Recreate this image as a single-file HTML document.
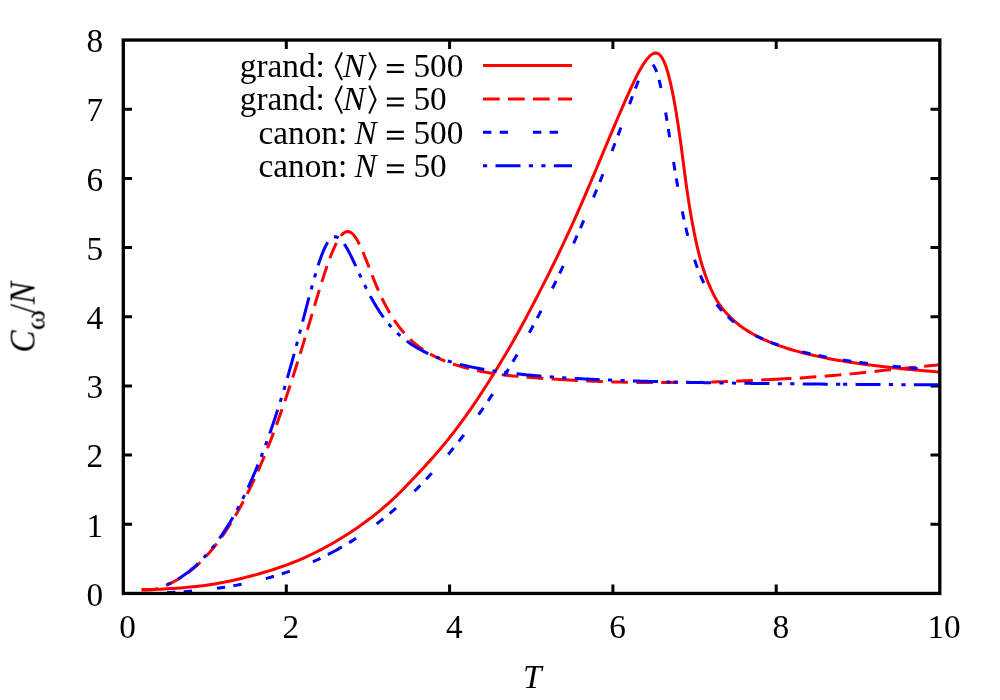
<!DOCTYPE html>
<html><head><meta charset="utf-8"><title>plot</title>
<style>html,body{margin:0;padding:0;background:#fff;width:1000px;height:700px;overflow:hidden;font-family:"Liberation Serif",serif}</style></head>
<body>
<svg width="1000" height="700" viewBox="0 0 1000 700" style="position:absolute;left:0;top:0">
<rect width="1000" height="700" fill="#fff"/>
<g fill="none" stroke="#000" stroke-width="3" stroke-linecap="butt">
<path d="M286.30,593.5 v-9 M286.30,40 v9"/>
<path d="M449.60,593.5 v-9 M449.60,40 v9"/>
<path d="M612.90,593.5 v-9 M612.90,40 v9"/>
<path d="M776.20,593.5 v-9 M776.20,40 v9"/>
<path d="M123,524.31 h9 M939.5,524.31 h-9"/>
<path d="M123,455.12 h9 M939.5,455.12 h-9"/>
<path d="M123,385.94 h9 M939.5,385.94 h-9"/>
<path d="M123,316.75 h9 M939.5,316.75 h-9"/>
<path d="M123,247.56 h9 M939.5,247.56 h-9"/>
<path d="M123,178.38 h9 M939.5,178.38 h-9"/>
<path d="M123,109.19 h9 M939.5,109.19 h-9"/>
</g>
<g fill="none" stroke-width="3" stroke-linejoin="round" stroke-linecap="butt">
<path stroke="#ff0000" d="M141.62,590.01 L144.23,589.90 L147.50,589.78 L150.76,589.64 L154.03,589.50 L157.29,589.35 L160.56,589.18 L163.82,589.00 L167.09,588.81 L170.36,588.61 L173.62,588.39 L176.89,588.16 L180.16,587.91 L183.42,587.65 L186.69,587.37 L189.95,587.08 L193.22,586.77 L196.49,586.43 L199.75,586.06 L203.02,585.65 L206.28,585.21 L209.55,584.72 L212.81,584.20 L216.08,583.65 L219.35,583.07 L222.61,582.46 L225.88,581.84 L229.15,581.17 L232.41,580.47 L235.68,579.74 L238.94,578.97 L242.21,578.19 L245.48,577.37 L248.74,576.55 L252.01,575.70 L255.27,574.83 L258.54,573.94 L261.81,573.01 L265.07,572.06 L268.34,571.08 L271.60,570.06 L274.87,569.00 L278.14,567.91 L281.40,566.79 L284.67,565.63 L286.30,565.04 L288.34,564.29 L290.38,563.52 L292.42,562.73 L294.46,561.93 L296.51,561.11 L298.55,560.26 L300.59,559.40 L302.63,558.51 L304.67,557.60 L306.71,556.67 L308.75,555.71 L310.79,554.74 L312.84,553.75 L314.88,552.74 L316.92,551.72 L318.96,550.68 L321.00,549.62 L323.04,548.55 L325.08,547.47 L327.12,546.36 L329.17,545.24 L331.21,544.09 L333.25,542.93 L335.29,541.75 L337.33,540.55 L339.37,539.33 L341.41,538.09 L343.45,536.83 L345.50,535.55 L347.54,534.25 L349.58,532.93 L351.62,531.58 L353.66,530.22 L355.70,528.83 L357.74,527.43 L359.78,526.00 L361.83,524.55 L363.87,523.08 L365.91,521.58 L367.95,520.06 L369.99,518.52 L372.03,516.95 L374.07,515.35 L376.11,513.73 L378.16,512.08 L380.20,510.40 L382.24,508.70 L384.28,506.97 L386.32,505.20 L388.36,503.40 L390.40,501.57 L392.44,499.69 L394.49,497.76 L396.53,495.80 L398.57,493.80 L400.61,491.78 L402.65,489.73 L404.69,487.63 L406.73,485.50 L408.77,483.35 L410.82,481.19 L412.86,479.05 L414.90,476.92 L416.94,474.77 L418.98,472.62 L421.02,470.45 L423.06,468.26 L425.10,466.05 L427.15,463.82 L429.19,461.56 L431.23,459.28 L433.27,456.97 L435.31,454.63 L437.35,452.28 L439.39,449.90 L441.43,447.49 L443.48,445.06 L445.52,442.59 L447.56,440.09 L449.60,437.54 L451.64,434.96 L453.68,432.34 L455.72,429.67 L457.76,426.97 L459.81,424.24 L461.85,421.46 L463.89,418.66 L465.93,415.82 L467.97,412.94 L470.01,410.02 L472.05,407.06 L474.09,404.06 L476.14,401.04 L478.18,397.98 L480.22,394.89 L482.26,391.78 L484.30,388.64 L486.34,385.47 L488.38,382.27 L490.42,379.04 L492.47,375.78 L494.51,372.50 L496.55,369.18 L498.59,365.84 L500.63,362.47 L502.67,359.07 L504.71,355.65 L506.75,352.20 L508.80,348.72 L510.84,345.21 L512.88,341.66 L514.92,338.07 L516.96,334.45 L519.00,330.79 L521.04,327.08 L523.08,323.32 L525.13,319.51 L527.17,315.67 L529.21,311.79 L531.25,307.89 L533.29,303.96 L535.33,300.03 L537.37,296.09 L539.41,292.14 L541.46,288.16 L543.50,284.16 L545.54,280.13 L547.58,276.08 L549.62,271.99 L551.66,267.88 L553.70,263.73 L555.74,259.55 L557.79,255.33 L559.83,251.08 L561.87,246.79 L563.91,242.46 L565.95,238.10 L567.99,233.71 L570.03,229.28 L572.07,224.83 L574.12,220.33 L576.16,215.80 L578.20,211.23 L580.24,206.61 L582.28,201.94 L584.32,197.21 L586.36,192.43 L588.40,187.62 L590.45,182.78 L592.49,177.92 L594.53,173.06 L596.57,168.22 L598.61,163.37 L600.65,158.51 L602.69,153.64 L604.73,148.76 L606.78,143.89 L608.82,139.03 L610.86,134.18 L612.90,129.35 L614.94,124.55 L616.98,119.77 L619.02,115.02 L621.06,110.30 L623.11,105.61 L625.15,100.97 L627.19,96.38 L629.23,91.85 L631.27,87.38 L633.31,83.01 L635.35,78.75 L637.39,74.67 L639.44,70.80 L641.48,67.21 L643.52,63.94 L645.56,60.99 L647.60,58.40 L649.64,56.19 L651.68,54.46 L653.72,53.33 L655.77,52.92 L657.81,53.40 L659.85,54.89 L661.89,57.49 L663.93,61.33 L665.97,66.51 L668.01,73.07 L670.05,81.05 L672.10,90.33 L674.14,100.82 L676.18,112.50 L678.22,125.51 L680.26,139.36 L682.30,154.78 L684.34,170.52 L686.38,185.96 L688.43,199.88 L690.47,212.46 L692.51,223.95 L694.55,234.52 L696.59,244.12 L698.63,252.69 L700.67,260.33 L702.71,267.23 L704.76,273.45 L706.80,279.07 L708.84,284.18 L710.88,288.90 L712.92,293.23 L714.96,297.17 L717.00,300.72 L719.04,303.86 L721.09,306.68 L723.13,309.30 L725.17,311.75 L727.21,314.04 L729.25,316.19 L731.29,318.20 L733.33,320.11 L735.37,321.90 L737.42,323.59 L739.46,325.20 L741.50,326.73 L743.54,328.18 L745.58,329.56 L747.62,330.87 L749.66,332.13 L751.70,333.33 L753.75,334.48 L755.79,335.58 L757.83,336.64 L759.87,337.65 L761.91,338.63 L763.95,339.57 L765.99,340.48 L768.03,341.36 L770.08,342.20 L772.12,343.02 L774.16,343.81 L776.20,344.58 L780.28,346.05 L784.37,347.43 L788.45,348.74 L792.53,349.97 L796.61,351.14 L800.70,352.25 L804.78,353.30 L808.86,354.30 L812.94,355.25 L817.03,356.16 L821.11,357.03 L825.19,357.86 L829.27,358.66 L833.36,359.42 L837.44,360.15 L841.52,360.85 L845.60,361.52 L849.69,362.17 L853.77,362.79 L857.85,363.39 L861.93,363.97 L866.02,364.53 L870.10,365.07 L874.18,365.59 L878.26,366.09 L882.35,366.58 L886.43,367.05 L890.51,367.51 L894.59,367.95 L898.68,368.37 L902.76,368.79 L906.84,369.19 L910.92,369.58 L915.01,369.96 L919.09,370.32 L923.17,370.68 L927.25,371.02 L931.34,371.36 L935.42,371.68 L939.50,372.00"/>
<path stroke="#ff0000" stroke-dasharray="16.67 8.33" d="M141.62,589.74 L144.23,589.50 L147.50,589.63 L150.76,589.75 L154.03,589.49 L157.29,588.60 L160.56,587.50 L163.82,586.27 L167.09,584.92 L170.36,583.43 L173.62,581.79 L176.89,580.01 L180.16,578.07 L183.42,575.96 L186.69,573.69 L189.95,571.23 L193.22,568.60 L196.49,565.78 L199.75,562.76 L203.02,559.54 L206.28,556.11 L209.55,552.46 L212.81,548.60 L216.08,544.51 L219.35,540.19 L222.61,535.63 L225.88,530.82 L229.15,525.77 L232.41,520.58 L235.68,515.15 L238.94,509.46 L242.21,503.52 L245.48,497.31 L248.74,490.84 L252.01,484.10 L255.27,477.09 L258.54,469.81 L261.81,462.26 L265.07,454.42 L268.34,446.31 L271.60,437.93 L274.87,429.27 L278.14,420.35 L281.40,411.16 L284.67,401.71 L286.30,396.90 L288.34,390.79 L290.38,384.60 L292.42,378.32 L294.46,371.95 L296.51,365.52 L298.55,359.01 L300.59,352.44 L302.63,345.82 L304.67,339.00 L306.71,332.14 L308.75,325.25 L310.79,318.36 L312.84,311.48 L314.88,304.63 L316.92,297.84 L318.96,291.13 L321.00,284.54 L323.04,278.11 L325.08,271.87 L327.12,265.87 L329.17,260.15 L331.21,254.78 L333.25,249.81 L335.29,245.30 L337.33,241.32 L339.37,237.93 L341.41,235.20 L343.45,233.18 L345.50,231.93 L347.54,231.48 L349.20,231.78 M349.20,231.78 L349.58,231.85 L351.62,233.03 L353.66,235.00 L355.70,237.71 L357.74,241.09 L359.78,245.05 L361.83,249.48 L363.87,254.27 L365.91,259.32 L367.95,264.51 L369.99,269.76 L372.03,274.98 L374.07,280.11 L376.11,285.09 L378.16,289.88 L380.20,294.47 L382.24,298.83 L384.28,302.97 L386.32,306.88 L388.36,310.59 L390.40,314.10 L392.44,317.39 L394.49,320.50 L396.53,323.43 L398.57,326.19 L400.61,328.80 L402.65,331.27 L404.69,333.61 L406.73,335.83 L408.77,337.94 L410.82,339.92 L412.86,341.79 L414.90,343.55 L416.94,345.20 L418.98,346.76 L421.02,348.24 L423.06,349.65 L425.10,350.99 L427.15,352.26 L429.19,353.47 L431.23,354.61 L433.27,355.71 L435.31,356.74 L437.35,357.73 L439.39,358.67 L441.43,359.57 L443.48,360.43 L445.52,361.25 L447.56,362.04 L449.60,362.79 L451.64,363.52 L453.68,364.21 L455.72,364.88 L457.76,365.51 L459.81,366.13 L461.85,366.72 L463.89,367.29 L465.93,367.84 L467.97,368.38 L470.01,368.89 L472.05,369.39 L474.09,369.87 L476.14,370.33 L478.18,370.77 L480.22,371.19 L482.26,371.60 L484.30,372.00 L486.34,372.37 L488.38,372.73 L490.42,373.07 L492.47,373.39 L494.51,373.69 L496.55,373.98 L498.59,374.26 L500.63,374.53 L502.67,374.78 L504.71,375.03 L506.75,375.27 L508.80,375.50 L510.84,375.72 L512.88,375.93 L514.92,376.13 L516.96,376.32 L519.00,376.51 L521.04,376.69 L523.08,376.86 L525.13,377.03 L527.17,377.19 L529.21,377.35 L531.25,377.52 L533.29,377.68 L535.33,377.84 L537.37,377.99 L539.41,378.14 L541.46,378.29 L543.50,378.43 L545.54,378.57 L547.58,378.71 L549.62,378.85 L551.66,378.98 L553.70,379.11 L555.74,379.24 L557.79,379.37 L559.83,379.49 L561.30,379.58 M561.30,379.58 L561.87,379.61 L563.91,379.74 L565.95,379.85 L567.99,379.97 L570.03,380.08 L572.07,380.19 L574.12,380.30 L576.16,380.40 L578.20,380.50 L580.24,380.60 L582.28,380.70 L584.32,380.80 L586.36,380.89 L588.40,380.98 L590.45,381.07 L592.49,381.16 L594.53,381.24 L596.57,381.33 L598.61,381.40 L600.65,381.48 L602.69,381.56 L604.73,381.63 L606.78,381.70 L608.82,381.76 L610.86,381.83 L612.90,381.89 L614.94,381.95 L616.98,382.00 L619.02,382.05 L621.06,382.10 L623.11,382.15 L625.15,382.19 L627.19,382.23 L629.23,382.26 L631.27,382.30 L633.31,382.33 L635.35,382.36 L637.39,382.39 L639.44,382.42 L641.48,382.44 L643.52,382.47 L645.56,382.49 L647.60,382.51 L649.64,382.53 L651.68,382.55 L653.72,382.56 L655.77,382.57 L657.81,382.58 L659.85,382.59 L661.89,382.60 L663.93,382.60 L665.97,382.61 L668.01,382.61 L670.05,382.61 L672.10,382.61 L674.14,382.61 L676.18,382.60 L678.22,382.60 L680.26,382.59 L682.30,382.58 L684.34,382.57 L686.38,382.56 L688.43,382.54 L690.47,382.52 L692.51,382.50 L694.55,382.47 L696.59,382.44 L698.63,382.40 L700.67,382.35 L702.71,382.30 L704.76,382.25 L706.80,382.19 L708.84,382.13 L710.88,382.07 L712.92,382.00 L714.96,381.93 L717.00,381.86 L719.04,381.80 L721.09,381.73 L723.13,381.66 L725.17,381.58 L727.21,381.50 L729.25,381.43 L731.29,381.35 L733.33,381.26 L735.37,381.18 L737.42,381.09 L739.46,381.01 L741.50,380.92 L743.54,380.83 L745.58,380.74 L747.62,380.65 L749.66,380.55 L751.70,380.46 L753.75,380.36 L755.79,380.27 L757.83,380.17 L759.87,380.07 L761.91,379.97 L763.95,379.86 L765.99,379.76 L768.03,379.66 L770.08,379.55 L772.12,379.45 L774.16,379.34 L774.80,379.31 M774.80,379.31 L776.20,379.24 L780.28,379.03 L784.37,378.83 L788.45,378.62 L792.53,378.40 L796.61,378.17 L800.70,377.92 L804.78,377.65 L808.86,377.37 L812.94,377.08 L817.03,376.78 L821.11,376.47 L825.19,376.14 L829.27,375.81 L833.36,375.47 L837.44,375.12 L841.52,374.76 L845.60,374.40 L849.69,374.02 L853.77,373.63 L857.85,373.22 L861.93,372.79 L866.02,372.35 L870.10,371.90 L874.18,371.45 L878.26,371.00 L882.35,370.56 L886.43,370.12 L890.51,369.70 L894.59,369.28 L898.68,368.86 L902.76,368.45 L906.84,368.03 L910.92,367.62 L915.01,367.21 L919.09,366.80 L923.17,366.40 L927.25,365.99 L931.34,365.59 L935.42,365.19 L939.50,364.80"/>
<path stroke="#0000ff" stroke-dasharray="8.33 8.33 8.33 25.00" d="M167.09,592.62 L170.36,592.47 L173.62,592.30 L176.89,592.12 L180.16,591.92 L183.42,591.70 L186.69,591.47 L189.95,591.22 L193.22,590.94 L196.49,590.65 L199.75,590.34 L203.02,590.01 L206.28,589.66 L209.55,589.28 L212.82,588.88 L216.08,588.46 L219.35,588.01 L222.61,587.54 L225.88,587.04 L229.15,586.52 L232.41,585.96 L235.68,585.38 L238.94,584.78 L242.21,584.14 L245.48,583.47 L248.74,582.77 L252.01,582.04 L255.27,581.28 L258.54,580.48 L261.81,579.66 L265.07,578.79 L268.34,577.90 L271.60,576.96 L274.87,576.00 L278.14,574.99 L281.40,573.95 L284.67,572.87 L286.30,572.31 L288.34,571.60 L290.38,570.88 L292.42,570.14 L294.46,569.38 L296.51,568.61 L298.55,567.83 L300.59,567.02 L302.63,566.20 L304.67,565.37 L306.71,564.51 L308.75,563.64 L310.79,562.75 L312.84,561.85 L314.88,560.93 L316.92,559.99 L318.96,559.03 L321.00,558.05 L323.04,557.06 L325.08,556.04 L327.12,555.01 L329.17,553.96 L331.21,552.89 L333.25,551.80 L334.70,551.02 M334.70,551.02 L335.29,550.70 L337.33,549.57 L339.37,548.42 L341.41,547.26 L343.45,546.07 L345.50,544.86 L347.54,543.64 L349.58,542.39 L351.62,541.12 L353.66,539.84 L355.70,538.53 L357.74,537.20 L359.78,535.84 L361.83,534.47 L363.87,533.08 L365.91,531.66 L367.95,530.22 L369.99,528.76 L372.03,527.28 L374.07,525.78 L376.11,524.25 L378.16,522.70 L380.20,521.13 L382.24,519.53 L384.28,517.91 L386.32,516.27 L388.36,514.60 L390.40,512.91 L392.44,511.20 L394.49,509.46 L396.53,507.69 L398.57,505.91 L400.61,504.10 L402.65,502.26 L404.69,500.40 L406.73,498.51 L408.77,496.60 L410.82,494.66 L412.86,492.70 L414.90,490.71 L416.94,488.70 L418.98,486.66 L421.02,484.59 L423.06,482.49 L425.10,480.37 L427.15,478.23 L429.19,476.05 L431.23,473.85 L433.27,471.62 L435.31,469.37 L437.35,467.08 L439.39,464.77 L441.43,462.43 L443.48,460.07 L445.52,457.67 L447.56,455.25 L449.60,452.79 L451.64,450.31 L453.68,447.80 L455.72,445.26 L457.76,442.69 L459.81,440.09 L461.85,437.46 L463.89,434.80 L465.93,432.12 L467.97,429.40 L470.01,426.65 L472.05,423.87 L474.09,421.06 L476.14,418.22 L478.18,415.35 L480.22,412.44 L482.26,409.51 L484.30,406.54 L486.34,403.54 L488.38,400.52 L490.42,397.45 L492.47,394.36 L494.51,391.23 L496.55,388.07 L498.59,384.88 L500.63,381.66 L502.67,378.40 L504.15,376.02 M504.15,376.02 L504.71,375.11 L506.75,371.79 L508.80,368.43 L510.84,365.04 L512.88,361.61 L514.92,358.15 L516.96,354.66 L519.00,351.13 L521.04,347.57 L523.08,343.97 L525.13,340.34 L527.17,336.68 L529.21,332.97 L531.25,329.24 L533.29,325.46 L535.33,321.65 L537.37,317.81 L539.41,313.93 L541.46,310.01 L543.50,306.06 L545.54,302.07 L547.58,298.04 L549.62,293.98 L551.66,289.87 L553.70,285.74 L555.74,281.56 L557.79,277.35 L559.83,273.10 L561.87,268.81 L563.91,264.48 L565.95,260.12 L567.99,255.71 L570.03,251.27 L572.07,246.79 L574.12,242.27 L576.16,237.71 L578.20,233.11 L580.24,228.47 L582.28,223.80 L584.32,219.08 L586.36,214.32 L588.40,209.53 L590.45,204.69 L592.49,199.81 L594.53,194.89 L596.57,189.93 L598.61,184.93 L600.65,179.89 L602.69,174.81 L604.73,169.68 L606.78,164.52 L608.82,159.31 L610.86,154.06 L612.90,148.77 L614.94,143.44 L616.98,138.06 L619.02,132.65 L621.06,127.19 L623.11,121.70 L625.15,116.18 L627.19,110.64 L629.23,105.08 L631.27,99.53 L633.31,94.03 L635.35,88.62 L637.39,83.37 L639.44,78.38 L641.48,73.78 L643.52,69.74 L645.56,66.46 L647.60,64.18 L649.64,63.13 L651.68,63.57 L653.72,65.68 L655.77,69.61 L657.81,75.39 L659.85,82.97 L661.89,92.20 L663.93,102.82 L665.97,114.52 L668.01,126.97 L670.05,139.82 L672.10,152.77 L673.60,162.17 M673.60,162.17 L674.14,165.54 L676.18,177.92 L678.22,189.77 L680.26,200.97 L682.30,211.46 L684.34,221.22 L686.38,230.25 L688.43,238.58 L690.47,246.24 L692.51,253.27 L694.55,259.73 L696.59,265.66 L698.63,271.10 L700.67,276.11 L702.71,280.72 L704.76,284.98 L706.80,288.91 L708.84,292.55 L710.88,295.93 L712.92,299.08 L714.96,302.01 L717.00,304.74 L719.04,307.30 L721.09,309.71 L723.13,311.96 L725.17,314.09 L727.21,316.10 L729.25,317.99 L731.29,319.79 L733.33,321.49 L735.37,323.10 L737.42,324.64 L739.46,326.10 L741.50,327.50 L743.54,328.83 L745.58,330.11 L747.62,331.33 L749.66,332.50 L751.70,333.62 L753.75,334.70 L755.79,335.73 L757.83,336.73 L759.87,337.69 L761.91,338.61 L763.95,339.51 L765.99,340.37 L768.03,341.20 L770.08,342.01 L772.12,342.78 L774.16,343.54 L776.20,344.27 L780.28,345.66 L784.37,346.98 L788.45,348.21 L792.53,349.39 L796.61,350.50 L800.70,351.55 L804.78,352.55 L808.86,353.50 L812.94,354.40 L817.03,355.27 L821.11,356.09 L825.19,356.88 L829.27,357.64 L833.36,358.36 L837.44,359.05 L841.52,359.72 L843.05,359.96 M843.05,359.96 L845.60,360.36 L849.69,360.97 L853.77,361.56 L857.85,362.13 L861.93,362.68 L866.02,363.21 L870.10,363.72 L874.18,364.21 L878.26,364.69 L882.35,365.15 L886.43,365.59 L890.51,366.02 L894.59,366.44 L898.68,366.84 L902.76,367.23 L906.84,367.61 L910.92,367.98 L915.01,368.33 L919.09,368.68 L923.17,369.01 L927.25,369.34 L931.34,369.65 L935.42,369.96 L939.50,370.26"/>
<path stroke="#0000ff" stroke-dasharray="4.17 8.33 25.00 8.33 4.17 8.33" d="M167.09,584.72 L170.36,583.19 L173.62,581.51 L176.89,579.68 L180.16,577.68 L183.42,575.52 L186.69,573.18 L189.95,570.66 L193.22,567.95 L196.49,565.04 L199.75,561.93 L203.02,558.61 L206.28,555.08 L209.55,551.32 L212.82,547.32 L216.08,543.09 L219.35,538.62 L222.61,533.90 L225.88,528.91 L229.15,523.66 L232.41,518.14 L235.68,512.34 L238.94,506.26 L242.21,499.88 L245.48,493.20 L248.74,486.21 L252.01,478.91 L255.27,471.29 L258.54,463.35 L261.81,455.07 L265.07,446.44 L268.34,437.47 L271.60,428.15 L274.87,418.46 L278.14,408.41 L281.40,397.99 L284.67,387.20 L286.30,381.66 L288.34,374.61 L290.38,367.42 L292.42,360.09 L294.46,352.64 L296.51,345.07 L298.55,337.39 L300.59,329.62 L302.63,321.80 L304.67,313.95 L306.71,306.11 L308.75,298.33 L310.79,290.68 L312.84,283.22 L314.88,276.02 L316.92,269.18 L318.96,262.78 L321.00,256.92 L323.04,251.68 L325.08,247.14 L327.12,243.37 L329.17,240.43 L331.21,238.34 L333.25,237.11 L334.70,236.85 M334.70,236.85 L335.29,236.74 L337.33,237.19 L339.37,238.40 L341.41,240.30 L343.45,242.83 L345.50,245.87 L347.54,249.36 L349.58,253.19 L351.62,257.28 L353.66,261.54 L355.70,265.92 L357.74,270.35 L359.78,274.77 L361.83,279.14 L363.87,283.42 L365.91,287.60 L367.95,291.64 L369.99,295.54 L372.03,299.28 L374.07,302.86 L376.11,306.28 L378.16,309.53 L380.20,312.63 L382.24,315.57 L384.28,318.36 L386.32,321.01 L388.36,323.52 L390.40,325.90 L392.44,328.16 L394.49,330.29 L396.53,332.32 L398.57,334.24 L400.61,336.07 L402.65,337.80 L404.69,339.45 L406.73,341.01 L408.77,342.50 L410.82,343.91 L412.86,345.26 L414.90,346.55 L416.94,347.77 L418.98,348.94 L421.02,350.05 L423.06,351.12 L425.10,352.14 L427.15,353.11 L429.19,354.05 L431.23,354.94 L433.27,355.80 L435.31,356.62 L437.35,357.41 L439.39,358.17 L441.43,358.90 L443.48,359.60 L445.52,360.27 L447.56,360.92 L449.60,361.54 L451.64,362.14 L453.68,362.72 L455.72,363.28 L457.76,363.82 L459.81,364.34 L461.85,364.85 L463.89,365.33 L465.93,365.80 L467.97,366.26 L470.01,366.70 L472.05,367.12 L474.09,367.53 L476.14,367.93 L478.18,368.32 L480.22,368.69 L482.26,369.05 L484.30,369.41 L486.34,369.75 L488.38,370.08 L490.42,370.40 L492.47,370.71 L494.51,371.02 L496.55,371.31 L498.59,371.60 L500.63,371.88 L502.67,372.15 L504.15,372.34 M504.15,372.34 L504.71,372.41 L506.75,372.67 L508.80,372.92 L510.84,373.16 L512.88,373.40 L514.92,373.63 L516.96,373.85 L519.00,374.07 L521.04,374.28 L523.08,374.49 L525.13,374.69 L527.17,374.89 L529.21,375.08 L531.25,375.27 L533.29,375.46 L535.33,375.63 L537.37,375.81 L539.41,375.98 L541.46,376.15 L543.50,376.31 L545.54,376.47 L547.58,376.62 L549.62,376.78 L551.66,376.93 L553.70,377.07 L555.74,377.21 L557.79,377.35 L559.83,377.49 L561.87,377.62 L563.91,377.75 L565.95,377.88 L567.99,378.00 L570.03,378.12 L572.07,378.24 L574.12,378.36 L576.16,378.47 L578.20,378.59 L580.24,378.70 L582.28,378.80 L584.32,378.91 L586.36,379.01 L588.40,379.11 L590.45,379.21 L592.49,379.31 L594.53,379.40 L596.57,379.50 L598.61,379.59 L600.65,379.68 L602.69,379.77 L604.73,379.85 L606.78,379.94 L608.82,380.02 L610.86,380.10 L612.90,380.18 L614.94,380.26 L616.98,380.34 L619.02,380.41 L621.06,380.49 L623.11,380.56 L625.15,380.63 L627.19,380.70 L629.23,380.77 L631.27,380.84 L633.31,380.91 L635.35,380.97 L637.39,381.04 L639.44,381.10 L641.48,381.16 L643.52,381.22 L645.56,381.28 L647.60,381.34 L649.64,381.40 L651.68,381.46 L653.72,381.51 L655.77,381.57 L657.81,381.62 L659.85,381.67 L661.89,381.73 L663.93,381.78 L665.97,381.83 L668.01,381.88 L670.05,381.93 L672.10,381.98 L673.60,382.01 M673.60,382.01 L674.14,382.02 L676.18,382.07 L678.22,382.12 L680.26,382.16 L682.30,382.21 L684.34,382.25 L686.38,382.29 L688.43,382.33 L690.47,382.38 L692.51,382.42 L694.55,382.46 L696.59,382.50 L698.63,382.54 L700.67,382.58 L702.71,382.61 L704.76,382.65 L706.80,382.69 L708.84,382.72 L710.88,382.76 L712.92,382.80 L714.96,382.83 L717.00,382.86 L719.04,382.90 L721.09,382.93 L723.13,382.96 L725.17,383.00 L727.21,383.03 L729.25,383.06 L731.29,383.09 L733.33,383.12 L735.37,383.15 L737.42,383.18 L739.46,383.21 L741.50,383.24 L743.54,383.27 L745.58,383.30 L747.62,383.32 L749.66,383.35 L751.70,383.38 L753.75,383.40 L755.79,383.43 L757.83,383.46 L759.87,383.48 L761.91,383.51 L763.95,383.53 L765.99,383.56 L768.03,383.58 L770.08,383.60 L772.12,383.63 L774.16,383.65 L776.20,383.67 L780.28,383.72 L784.37,383.76 L788.45,383.80 L792.53,383.85 L796.61,383.89 L800.70,383.92 L804.78,383.96 L808.86,384.00 L812.94,384.04 L817.03,384.07 L821.11,384.11 L825.19,384.14 L829.27,384.17 L833.36,384.21 L837.44,384.24 L841.52,384.27 L843.05,384.28 M843.05,384.28 L845.60,384.30 L849.69,384.33 L853.77,384.36 L857.85,384.38 L861.93,384.41 L866.02,384.44 L870.10,384.46 L874.18,384.49 L878.26,384.51 L882.35,384.54 L886.43,384.56 L890.51,384.59 L894.59,384.61 L898.68,384.63 L902.76,384.65 L906.84,384.67 L910.92,384.69 L915.01,384.71 L919.09,384.73 L923.17,384.75 L927.25,384.77 L931.34,384.79 L935.42,384.81 L939.50,384.83"/>
<path stroke="#ff0000" d="M483,65.5 H572"/>
<path stroke="#ff0000" stroke-dasharray="16.67 8.33" d="M483,98.9 H572"/>
<path stroke="#0000ff" stroke-dasharray="8.33 8.33 8.33 25.00" d="M483,132.3 H572"/>
<path stroke="#0000ff" stroke-dasharray="4.17 8.33 25.00 8.33 4.17 8.33" d="M483,165.7 H572"/>
</g>
<rect x="123.3" y="40.05" width="816.5" height="553.4" fill="none" stroke="#000" stroke-width="3.3"/>
<g font-family="'Liberation Serif', serif" font-size="33.3" fill="#000" style="filter:grayscale(1)">
<text transform="translate(103.20,605.70) scale(1,1.04)" text-anchor="end">0</text>
<text transform="translate(103.20,536.51) scale(1,1.04)" text-anchor="end">1</text>
<text transform="translate(103.20,467.32) scale(1,1.04)" text-anchor="end">2</text>
<text transform="translate(103.20,398.14) scale(1,1.04)" text-anchor="end">3</text>
<text transform="translate(103.20,328.95) scale(1,1.04)" text-anchor="end">4</text>
<text transform="translate(103.20,259.76) scale(1,1.04)" text-anchor="end">5</text>
<text transform="translate(103.20,190.57) scale(1,1.04)" text-anchor="end">6</text>
<text transform="translate(103.20,121.39) scale(1,1.04)" text-anchor="end">7</text>
<text transform="translate(103.20,52.20) scale(1,1.04)" text-anchor="end">8</text>
<text transform="translate(127.60,638.30) scale(1,1.04)" text-anchor="middle">0</text>
<text transform="translate(290.90,638.30) scale(1,1.04)" text-anchor="middle">2</text>
<text transform="translate(454.20,638.30) scale(1,1.04)" text-anchor="middle">4</text>
<text transform="translate(617.50,638.30) scale(1,1.04)" text-anchor="middle">6</text>
<text transform="translate(780.80,638.30) scale(1,1.04)" text-anchor="middle">8</text>
<text transform="translate(944.10,638.30) scale(1,1.04)" text-anchor="middle">10</text>
<text transform="translate(532.20,687.80) scale(1,1.04)" text-anchor="middle" font-style="italic">T</text>
<g transform="translate(35.1,352.6) rotate(-90) scale(1,1.05)"><text font-style="italic">C</text><text transform="translate(22.2,9.05) scale(1.17,1)" font-size="26.6">ω</text><text x="39.6">/</text><text x="48.6" font-style="italic">N</text></g>
<text transform="translate(463.40,77.00) scale(1,1.04)" text-anchor="end">500</text>
<path d="M386.8,64.00 h17 v2.25 h-17z M386.8,70.80 h17 v2.25 h-17z"/>
<text transform="translate(239.80,77.00) scale(1,1.04)" text-anchor="start">grand:</text>
<text transform="translate(343.00,77.00) scale(1,1.04)" text-anchor="start" font-style="italic">N</text>
<path fill="none" stroke="#000" stroke-width="2" stroke-linejoin="miter" d="M342,52.30 L335.6,66.30 L342,80.20 M369.2,52.30 L375.6,66.30 L369.2,80.20"/>
<text transform="translate(446.75,110.40) scale(1,1.04)" text-anchor="end">50</text>
<path d="M386.8,97.40 h17 v2.25 h-17z M386.8,104.20 h17 v2.25 h-17z"/>
<text transform="translate(239.80,110.40) scale(1,1.04)" text-anchor="start">grand:</text>
<text transform="translate(343.00,110.40) scale(1,1.04)" text-anchor="start" font-style="italic">N</text>
<path fill="none" stroke="#000" stroke-width="2" stroke-linejoin="miter" d="M342,85.70 L335.6,99.70 L342,113.60 M369.2,85.70 L375.6,99.70 L369.2,113.60"/>
<text transform="translate(463.40,143.80) scale(1,1.04)" text-anchor="end">500</text>
<path d="M386.8,130.80 h17 v2.25 h-17z M386.8,137.60 h17 v2.25 h-17z"/>
<text transform="translate(258.50,143.80) scale(1,1.04)" text-anchor="start">canon:</text>
<text transform="translate(354.50,143.80) scale(1,1.04)" text-anchor="start" font-style="italic">N</text>
<text transform="translate(446.75,177.20) scale(1,1.04)" text-anchor="end">50</text>
<path d="M386.8,164.20 h17 v2.25 h-17z M386.8,171.00 h17 v2.25 h-17z"/>
<text transform="translate(258.50,177.20) scale(1,1.04)" text-anchor="start">canon:</text>
<text transform="translate(354.50,177.20) scale(1,1.04)" text-anchor="start" font-style="italic">N</text>
</g>
</svg>
</body></html>
